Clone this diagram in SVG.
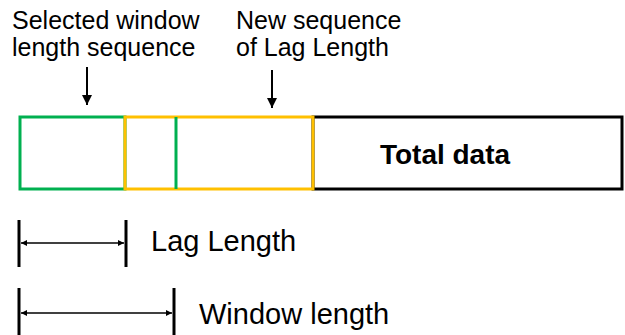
<svg xmlns="http://www.w3.org/2000/svg" width="625" height="335" viewBox="0 0 625 335">
<defs>
<marker id="ah" viewBox="0 0 10 10" refX="10" refY="5" markerWidth="6" markerHeight="6" orient="auto-start-reverse" markerUnits="userSpaceOnUse">
<path d="M0,0 L10,5 L0,10 z" fill="#000"/>
</marker>
<marker id="ahd" viewBox="0 0 10 10" refX="10" refY="5" markerWidth="10" markerHeight="10" orient="auto" markerUnits="userSpaceOnUse">
<path d="M0,0 L10,5 L0,10 z" fill="#000"/>
</marker>
<style>
text { font-family: "Liberation Sans", Arial, sans-serif; fill: #000; }
.lbl { font-size: 25px; }
.dim { font-size: 29px; }
.bar { stroke: #000; stroke-width: 3; }
.dl { stroke: #000; stroke-width: 1.3; fill: none; }
.ptr { stroke: #000; stroke-width: 2; fill: none; }
</style>
</defs>
<rect width="625" height="335" fill="#fff"/>
<g id="total-data">
<rect x="313" y="117" width="309" height="72" fill="#fff" stroke="#000" stroke-width="3"/>
<text x="445" y="164" text-anchor="middle" font-weight="bold" font-size="28">Total data</text>
</g>
<g id="window-seq">
<rect x="20" y="117" width="105" height="72" fill="none" stroke="#00b050" stroke-width="3"/>
</g>
<g id="lag-seq">
<rect x="125" y="117" width="188" height="72" fill="none" stroke="#ffc000" stroke-width="3"/>
<line x1="176" y1="117" x2="176" y2="189" stroke="#00b050" stroke-width="3"/>
</g>
<g id="label-window">
<text class="lbl" x="12" y="29">Selected window</text>
<text class="lbl" x="12" y="56">length sequence</text>
</g>
<g id="label-lag">
<text class="lbl" x="236" y="29">New sequence</text>
<text class="lbl" x="236" y="56">of Lag Length</text>
</g>
<g id="lag-length">
<line class="bar" x1="19" y1="220" x2="19" y2="267"/>
<line class="bar" x1="126" y1="220" x2="126" y2="267"/>
<text class="dim" x="151" y="251">Lag Length</text>
</g>
<g id="window-length">
<line class="bar" x1="19" y1="288" x2="19" y2="335"/>
<line class="bar" x1="174" y1="288" x2="174" y2="335"/>
<text class="dim" x="199" y="324" font-size="31">Window length</text>
</g>
<g id="connectors">
<line class="ptr" x1="87" y1="67" x2="87" y2="105" marker-end="url(#ahd)"/>
<line class="ptr" x1="272" y1="70" x2="272" y2="108" marker-end="url(#ahd)"/>
<line class="dl" x1="21" y1="243" x2="124" y2="243" marker-start="url(#ah)" marker-end="url(#ah)"/>
<line class="dl" x1="21" y1="313" x2="172" y2="313" marker-start="url(#ah)" marker-end="url(#ah)"/>
</g>
</svg>
